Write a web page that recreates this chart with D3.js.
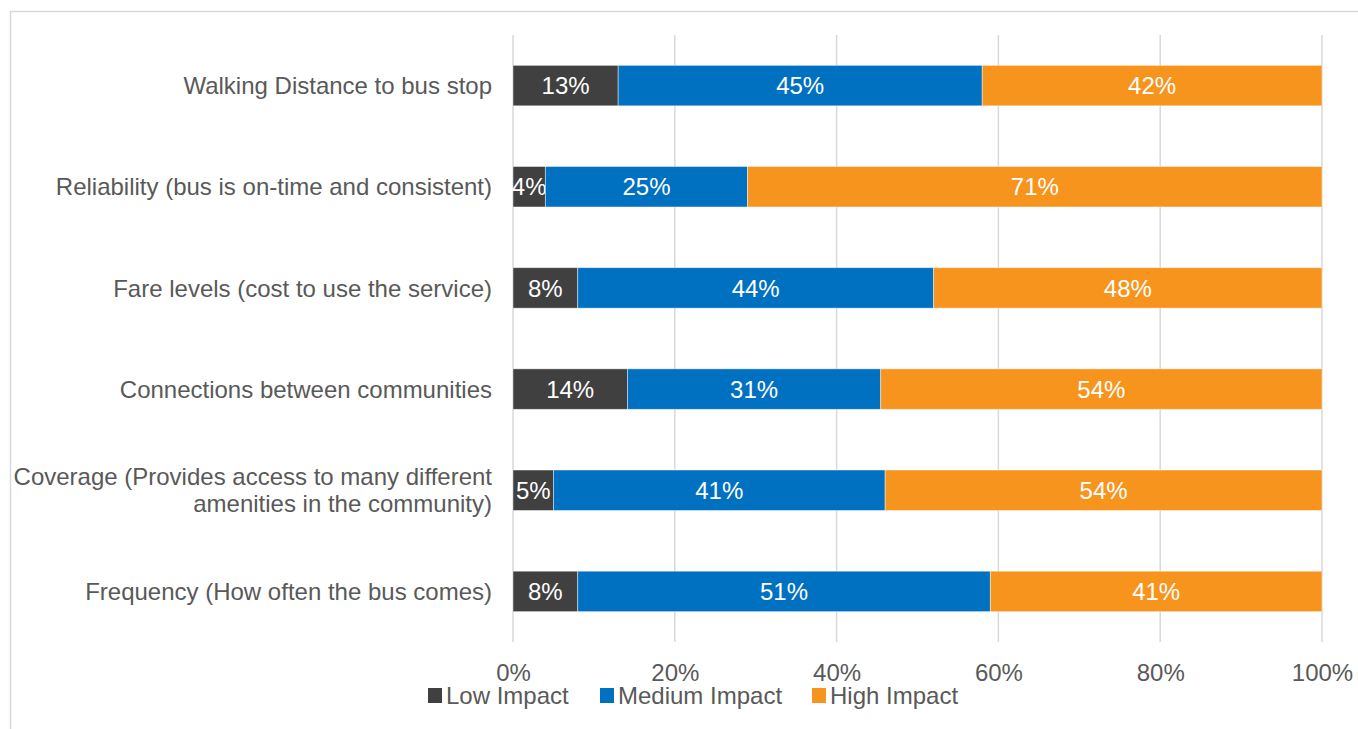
<!DOCTYPE html>
<html>
<head>
<meta charset="utf-8">
<script src="https://cdn.jsdelivr.net/npm/d3@7"></script>
<style>
  html, body { margin: 0; padding: 0; background: #fff; }
  svg { display: block; font-family: "Liberation Sans", Arial, sans-serif; }
</style>
</head>
<body>
<svg id="chart" width="1358" height="729"></svg>
<script>
// Survey factors, top to bottom
const categories = [
  ["Walking Distance to bus stop"],
  ["Reliability (bus is on-time and consistent)"],
  ["Fare levels (cost to use the service)"],
  ["Connections between communities"],
  ["Coverage (Provides access to many different", "amenities in the community)"],
  ["Frequency (How often the bus comes)"]
];
const seriesNames = ["Low Impact", "Medium Impact", "High Impact"];
const lowImpact    = [13, 4, 8, 14, 5, 8];
const mediumImpact = [45, 25, 44, 31, 41, 51];
const highImpact   = [42, 71, 48, 54, 54, 41];
const tickLabels = ["0%", "20%", "40%", "60%", "80%", "100%"];
const colors = ["#404040", "#0070C0", "#F7941D"];

const svg = d3.select("#chart");
const W = 1358, H = 729;
const FS = 24;

// outer chart frame
svg.append("rect")
  .attr("x", 10.5).attr("y", 11.5)
  .attr("width", W).attr("height", H)
  .attr("fill", "none").attr("stroke", "#d9d9d9").attr("stroke-width", 1.5);

const plot = { left: 513, right: 1322, top: 35, bottom: 642 };

const x = d3.scaleLinear().domain([0, 1]).range([plot.left, plot.right]);
const y = d3.scaleBand()
  .domain(d3.range(categories.length))
  .range([plot.top, plot.bottom])
  .paddingInner(0.6).paddingOuter(0.3);

// rows of the percent-stacked table
const rows = categories.map((c, i) => ({
  i,
  "Low Impact": lowImpact[i],
  "Medium Impact": mediumImpact[i],
  "High Impact": highImpact[i]
}));
const stacked = d3.stack().keys(seriesNames).offset(d3.stackOffsetExpand)(rows);

// vertical gridlines
const ticks = [0, 0.2, 0.4, 0.6, 0.8, 1];
svg.append("g").selectAll("line").data(ticks).join("line")
  .attr("x1", d => x(d)).attr("x2", d => x(d))
  .attr("y1", plot.top).attr("y2", plot.bottom)
  .attr("stroke", "#d9d9d9").attr("stroke-width", 1.5);

// x axis labels
const xAxis = d3.axisBottom(x).tickValues(ticks)
  .tickFormat((d, i) => tickLabels[i]).tickSize(0).tickPadding(0);
const gx = svg.append("g").attr("transform", `translate(0,${plot.bottom})`).call(xAxis);
gx.select(".domain").remove();
gx.selectAll("text")
  .attr("y", 39).attr("dy", 0)
  .attr("fill", "#595959").attr("font-size", FS)
  .attr("font-family", "Liberation Sans, Arial, sans-serif");

// bars
const layers = svg.append("g").selectAll("g").data(stacked).join("g")
  .attr("fill", (d, i) => colors[i]);
layers.selectAll("rect").data(d => d.map(v => ({ v, key: d.key }))).join("rect")
  .attr("x", d => x(d.v[0]))
  .attr("y", d => y(d.v.data.i))
  .attr("width", d => x(d.v[1]) - x(d.v[0]))
  .attr("height", y.bandwidth())
  .attr("stroke", "#ffffff").attr("stroke-opacity", 0.55).attr("stroke-width", 0.8);

// value labels
layers.selectAll("text").data(d => d.map(v => ({ v, key: d.key }))).join("text")
  .attr("x", d => (x(d.v[0]) + x(d.v[1])) / 2)
  .attr("y", d => y(d.v.data.i) + y.bandwidth() / 2)
  .attr("dy", "0.36em")
  .attr("text-anchor", "middle")
  .attr("fill", "#ffffff").attr("font-size", FS)
  .text(d => d.v.data[d.key] + "%");

// category labels
const catG = svg.append("g").selectAll("text").data(categories).join("text")
  .attr("text-anchor", "end")
  .attr("fill", "#595959").attr("font-size", FS)
  .attr("transform", (d, i) => `translate(492,${y(i) + y.bandwidth() / 2})`);
catG.selectAll("tspan").data(d => d.map((t, k) => ({ t, k, n: d.length }))).join("tspan")
  .attr("x", 0)
  .attr("y", d => (d.k - (d.n - 1) / 2) * 27)
  .attr("dy", "0.36em")
  .text(d => d.t);

// legend (baseline at y = 704)
const legendX = [428, 600, 812];
const lg = svg.append("g").selectAll("g").data(seriesNames).join("g")
  .attr("transform", (d, i) => `translate(${legendX[i]},704)`);
lg.append("rect").attr("x", 0).attr("y", -16).attr("width", 14).attr("height", 15)
  .attr("fill", (d, i) => colors[i]);
lg.append("text").attr("x", 18)
  .attr("fill", "#595959").attr("font-size", FS)
  .text(d => d);
</script>
</body>
</html>
